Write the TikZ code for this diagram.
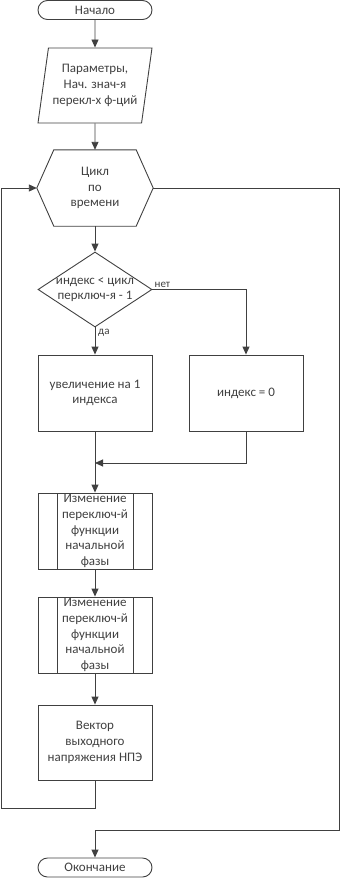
\documentclass[tikz,border=0pt]{standalone}
\usepackage{fontspec}
\setmainfont{Carlito}
\usetikzlibrary{shapes.geometric,arrows.meta}

\definecolor{ink}{HTML}{404040}

\tikzset{
  every node/.style={font=\fontsize{13}{15.7}\selectfont, text=ink, align=center},
  line/.style={draw=ink, line width=0.9pt},
  arrow/.style={line, -{Triangle[length=8pt,width=7pt]}},
  term/.style={line, rectangle, rounded corners=9.5pt, minimum width=114pt, minimum height=19pt, inner sep=0pt},
  iobox/.style={line, trapezium, trapezium left angle=76, trapezium right angle=104,
    trapezium stretches body, minimum width=114pt, minimum height=75pt, inner sep=0pt},
  loophead/.style={minimum width=82pt, minimum height=76pt, inner sep=0pt},
  decision/.style={line, diamond, aspect=1.5, minimum width=114pt, minimum height=75pt, inner sep=-6pt},
  process/.style={line, rectangle, minimum width=114pt, minimum height=76pt, inner sep=0pt},
  subproc/.style={process, path picture={
    \draw[ink, line width=0.9pt] ([xshift=19pt]path picture bounding box.north west) -- ([xshift=19pt]path picture bounding box.south west);
    \draw[ink, line width=0.9pt] ([xshift=-19pt]path picture bounding box.north east) -- ([xshift=-19pt]path picture bounding box.south east);}},
  lbl/.style={font=\fontsize{11}{12}\selectfont, inner sep=1pt}
}

\begin{document}
\begin{tikzpicture}[x=1pt, y=-1pt]

\useasboundingbox (0,0) rectangle (341,878);

% Blocks
\node[term] (start) at (95,10) {Начало};
\node[iobox] (params) at (95,85.5) {Параметры,\\Нач. знач-я\\перекл-х ф-ций};
\node[loophead] (cyc) at (95,188) {Цикл\\по\\времени};
\node[decision] (cond) at (95,289.5) {индекс < цикл\\перключ-я - 1};
\node[process] (inc) at (95,393) {увеличение на 1\\индекса};
\node[process] (rst) at (246,393) {индекс = 0};
\node[subproc] (chg1) at (95,531) {Изменение\\переключ-й\\функции\\начальной\\фазы};
\node[subproc] (chg2) at (95,635) {Изменение\\переключ-й\\функции\\начальной\\фазы};
\node[process, minimum height=75pt] (vec) at (95,742.5) {Вектор\\выходного\\напряжения НПЭ};
\node[term] (finish) at (95,867.5) {Окончание};

% Hexagon of the time loop
\coordinate (cycW) at ([xshift=-17pt]cyc.west);
\coordinate (cycE) at ([xshift=17pt]cyc.east);
\draw[line] (cyc.north west) -- (cyc.north east) -- (cycE) -- (cyc.south east)
  -- (cyc.south west) -- (cycW) -- cycle;

% Helper points
\coordinate (mrg) at (95,463);
\coordinate (loopL) at (1,808);
\coordinate (exitR) at (339,830);

% Connectors
\draw[arrow] (start) -- (params);
\draw[arrow] (params) -- (cyc);
\draw[arrow] (cyc) -- (cond);
\draw[arrow] (cond) -- (inc);
\draw[arrow] (cond.east) -| (rst.north);
\draw[arrow] (inc) -- (chg1);
\draw[arrow] (rst.south) |- (mrg);
\draw[arrow] (chg1) -- (chg2);
\draw[arrow] (chg2) -- (vec);
\draw[arrow] (vec.south) |- (loopL) |- (cycW);
\draw[arrow] (cycE) -| (exitR) -| (finish.north);

% Labels
\node[lbl, anchor=south west] (no) at ([xshift=1pt,yshift=1pt]cond.east) {нет};
\node[lbl, anchor=north west] (yes) at ([xshift=2pt,yshift=-1pt]cond.south) {да};

\end{tikzpicture}
\end{document}
